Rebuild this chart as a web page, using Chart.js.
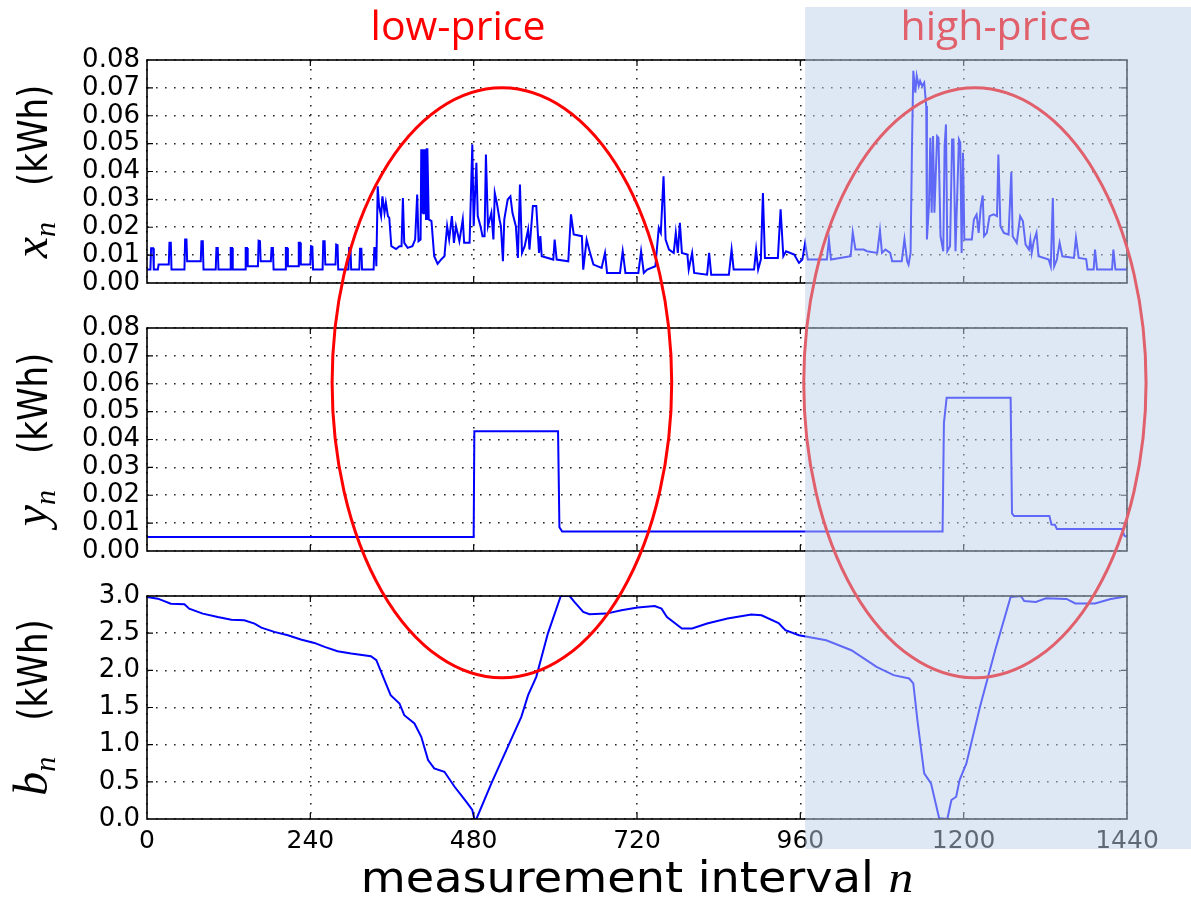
<!DOCTYPE html>
<html>
<head>
<meta charset="utf-8">
<script src="https://cdn.jsdelivr.net/npm/chart.js@4.4.1/dist/chart.umd.min.js"></script>
<style>
  html, body { margin: 0; padding: 0; background: #fff; }
  #wrap { position: relative; width: 1191px; height: 902px; overflow: hidden; }
  #wrap canvas { position: absolute; left: 0; top: 0; }
</style>
</head>
<body>
<div id="wrap">
  <canvas id="usageCanvas" width="1191" height="902"></canvas>
  <canvas id="gridCanvas" width="1191" height="902"></canvas>
  <canvas id="batteryCanvas" width="1191" height="902"></canvas>
</div>
<script>
// measurement interval ticks (one day of 1-minute intervals)
const intervalTicks = [0, 240, 480, 720, 960, 1200, 1440];

// x_n : household demand per interval (kWh), [n, value]
const usage = [
  [0,0.0048],[5,0.0048],[6,0.0125],[9,0.0125],[10,0.0048],[16,0.0048],[17,0.0066],[32,0.0066],
  [33,0.0144],[35,0.0144],[36,0.0048],[55,0.0048],[56,0.0156],[58,0.0156],[59,0.0078],[79,0.0078],
  [80,0.015],[82,0.015],[83,0.0048],[101,0.0048],[102,0.0126],[104,0.0126],[105,0.0048],[122,0.0048],
  [123,0.0126],[125,0.0126],[126,0.0048],[144,0.0048],[145,0.0126],[147,0.0126],[148,0.006],[163,0.006],
  [164,0.0152],[166,0.015],[167,0.0078],[182,0.0078],[183,0.0126],[185,0.0126],[186,0.0048],[203,0.0048],
  [204,0.0126],[206,0.0126],[207,0.006],[222,0.006],[223,0.0144],[225,0.0144],[226,0.0066],[240,0.0066],
  [241,0.0132],[243,0.013],[244,0.0048],[258,0.0048],[259,0.015],[261,0.015],[262,0.0066],[277,0.0066],
  [278,0.0138],[280,0.0136],[281,0.0048],[296,0.0048],[297,0.0126],[299,0.0126],[300,0.0048],[312,0.0048],
  [313,0.0123],[315,0.0123],[316,0.0048],[333,0.0048],[334,0.0126],[336,0.0126],[337,0.006],
  [339,0.0347],[341,0.0276],[344,0.024],[346,0.0311],[349,0.0252],[351,0.0288],[354,0.024],[356,0.0234],
  [359,0.0132],[366,0.0122],[371,0.0132],[374,0.0132],[376,0.0305],[378,0.0144],[383,0.0126],[390,0.0132],
  [394,0.0156],[397,0.0317],[399,0.015],[402,0.0156],[403,0.048],[404,0.025],[405,0.048],[406,0.025],
  [407,0.048],[408,0.025],[409,0.048],[410,0.023],[411,0.048],[412,0.048],[414,0.0228],[418,0.0222],
  [422,0.0096],[427,0.0069],[432,0.0084],[437,0.0096],[441,0.0204],[444,0.0156],[448,0.024],[451,0.0144],
  [454,0.0204],[459,0.015],[464,0.0228],[466,0.0144],[474,0.0144],[478,0.0497],[480,0.0204],[484,0.0431],
  [486,0.024],[490,0.0204],[493,0.0168],[496,0.0168],[498,0.0461],[501,0.0204],[506,0.0252],[509,0.0156],
  [511,0.0323],[514,0.0288],[518,0.0228],[520,0.0204],[523,0.0078],[525,0.0228],[530,0.03],[534,0.0311],
  [537,0.0252],[542,0.0204],[545,0.009],[548,0.0353],[551,0.0108],[555,0.0132],[560,0.0192],[562,0.012],
  [567,0.0276],[572,0.0276],[576,0.0108],[578,0.0168],[580,0.0096],
  [597,0.0084],[599,0.0156],[602,0.0084],[619,0.0078],[623,0.0246],[627,0.0174],[639,0.0168],[641,0.0048],
  [646,0.0156],[651,0.0108],[656,0.0066],[668,0.0054],[673,0.0108],[676,0.0036],[695,0.0036],[699,0.0114],
  [703,0.0036],[722,0.0036],[726,0.0114],[730,0.0036],[735,0.0048],[747,0.006],[752,0.0198],[755,0.018],
  [759,0.0383],[762,0.0156],[767,0.012],[774,0.0108],[777,0.018],[780,0.0108],[783,0.0216],[786,0.0108],
  [794,0.0102],[796,0.0048],[801,0.0108],[804,0.0036],[823,0.003],[826,0.0108],[829,0.003],[855,0.003],
  [859,0.012],[862,0.0048],[892,0.0048],[895,0.012],[898,0.0048],[902,0.0084],[905,0.0323],[908,0.009],
  [927,0.009],[931,0.0264],[935,0.0096],[939,0.0114],[951,0.0102],[958,0.0072],[963,0.0084],[967,0.0144],
  [971,0.0084],[985,0.0084],[999,0.0084],[1002,0.0156],[1005,0.0084],[1034,0.0096],[1037,0.0182],[1041,0.012],
  [1053,0.012],[1058,0.0114],[1073,0.0108],[1077,0.0189],[1080,0.0108],[1085,0.012],[1092,0.0108],[1095,0.0078],
  [1109,0.0078],[1113,0.0158],[1117,0.0078],[1119,0.0066],[1122,0.0108],[1124,0.048],[1126,0.0761],[1129,0.0683],
  [1131,0.0743],[1134,0.0707],[1136,0.0725],[1139,0.0707],[1142,0.0719],[1145,0.0635],[1146,0.0156],[1149,0.0276],
  [1151,0.0521],[1153,0.0252],[1155,0.0527],[1157,0.0252],[1161,0.0527],[1163,0.0521],[1166,0.0168],[1170,0.0114],
  [1172,0.0491],[1174,0.0569],[1176,0.0114],[1180,0.0132],[1183,0.0515],[1185,0.0515],[1188,0.0114],[1193,0.0515],
  [1195,0.0503],[1197,0.0108],[1199,0.0467],[1201,0.0156],[1212,0.0156],[1215,0.0228],[1219,0.0246],[1222,0.018],
  [1225,0.027],[1228,0.0314],[1230,0.0168],[1234,0.018],[1238,0.024],[1244,0.0246],[1249,0.024],[1251,0.0461],
  [1254,0.0204],[1259,0.018],[1266,0.0174],[1270,0.0398],[1272,0.0168],[1278,0.0144],[1283,0.024],[1287,0.0222],
  [1291,0.0138],[1296,0.012],[1298,0.0156],[1300,0.0108],[1303,0.015],[1307,0.018],[1310,0.0096],[1325,0.0084],
  [1328,0.006],[1331,0.0305],[1333,0.006],[1337,0.0084],[1341,0.0144],[1345,0.0096],[1362,0.009],[1365,0.0162],
  [1369,0.009],[1380,0.0086],[1382,0.0048],[1391,0.0048],[1393,0.012],[1396,0.0048],[1418,0.0048],[1420,0.012],
  [1423,0.0048],[1440,0.0048]
];

// y_n : energy drawn from the grid (kWh), [n, value]
const gridDraw = [
  [0,0.005],[480,0.005],[481,0.043],[604,0.043],[606,0.0085],[610,0.007],[1169,0.007],[1171,0.046],
  [1175,0.055],[1269,0.055],[1271,0.0135],[1274,0.0126],[1326,0.0126],[1329,0.0095],[1334,0.0094],
  [1337,0.0079],[1433,0.0079],[1436,0.0055],[1440,0.005]
];

// b_n : battery state of charge (kWh), [n, value]
const battery = [
  [0,2.987],[16,2.964],[35,2.897],[55,2.888],[62,2.83],[82,2.763],[104,2.718],[124,2.682],[143,2.673],
  [158,2.629],[168,2.575],[187,2.517],[207,2.472],[226,2.414],[246,2.369],[261,2.315],[280,2.257],[300,2.226],
  [329,2.19],[337,2.136],[347,1.912],[358,1.666],[371,1.554],[378,1.397],[393,1.285],[403,1.106],[413,0.793],
  [422,0.681],[437,0.636],[452,0.434],[469,0.233],[478,0.121],[481,0],[484,0],[506,0.479],[528,0.927],
  [550,1.375],[560,1.666],[572,1.912],[589,2.494],[608,3.0],[621,3.0],[628,2.92],[641,2.785],[650,2.754],
  [675,2.763],[697,2.808],[721,2.844],[746,2.866],[756,2.83],[764,2.718],[786,2.562],[801,2.562],[823,2.629],
  [853,2.696],[888,2.75],[903,2.741],[928,2.637],[938,2.539],[958,2.472],[998,2.405],[1035,2.27],[1072,2.046],
  [1097,1.935],[1120,1.89],[1126,1.823],[1132,1.33],[1142,0.614],[1152,0.48],[1164,0.009],[1176,0],
  [1182,0.255],[1189,0.3],[1194,0.524],[1204,0.748],[1224,1.509],[1247,2.293],[1269,2.986],[1284,3.0],
  [1289,2.933],[1306,2.92],[1321,2.97],[1351,2.96],[1364,2.9],[1393,2.9],[1416,2.96],[1436,2.99],[1440,3.0]
];

// price periods circled on the figure (interval ranges)
const lowPriceZone = [272, 771];
const highPriceZone = [965, 1468];
const highPriceStart = 967;

Chart.defaults.font.family = '"DejaVu Sans", sans-serif';
Chart.defaults.color = '#000';

const PLOT_LEFT = 147;
const PLOT_RIGHT = 1127;

function drawYTitle(ctx, sym, cy) {
  ctx.save();
  ctx.translate(47, cy);
  ctx.rotate(-Math.PI / 2);
  ctx.fillStyle = '#000';
  ctx.textBaseline = 'alphabetic';
  const fSym = 'italic 48px "Liberation Serif"';
  const fSub = 'italic 30px "Liberation Serif"';
  const fUnit = '40px "DejaVu Sans"';
  const squeeze = 0.85;
  ctx.font = fSym; const w1 = ctx.measureText(sym).width;
  ctx.font = fSub; const w2 = ctx.measureText('n').width;
  ctx.font = fUnit; const w3 = ctx.measureText('(kWh)').width * squeeze;
  const gap = 36;
  let cx = -(w1 + w2 + gap + w3) / 2;
  ctx.font = fSym; ctx.fillText(sym, cx, 0); cx += w1;
  ctx.font = fSub; ctx.fillText('n', cx, 8); cx += w2 + gap;
  ctx.font = fUnit;
  ctx.translate(cx, 0);
  ctx.scale(squeeze, 1);
  ctx.fillText('(kWh)', 0, 0);
  ctx.restore();
}

// box, inward tick marks and the rotated y label
const framePlugin = {
  id: 'frame',
  afterDraw(chart, args, opts) {
    const { ctx, chartArea: a, scales: { x, y } } = chart;
    ctx.save();
    ctx.strokeStyle = '#000';
    ctx.lineWidth = 1.2;
    ctx.beginPath();
    x.ticks.forEach(t => {
      const px = x.getPixelForValue(t.value);
      if (px <= a.left + 1 || px >= a.right - 1) return;
      ctx.moveTo(px, a.top); ctx.lineTo(px, a.top + 6);
      ctx.moveTo(px, a.bottom); ctx.lineTo(px, a.bottom - 6);
    });
    y.ticks.forEach(t => {
      const py = y.getPixelForValue(t.value);
      if (py <= a.top + 1 || py >= a.bottom - 1) return;
      ctx.moveTo(a.left, py); ctx.lineTo(a.left + 6, py);
      ctx.moveTo(a.right, py); ctx.lineTo(a.right - 6, py);
    });
    ctx.stroke();
    ctx.lineWidth = 1.6;
    ctx.strokeRect(a.left, a.top, a.right - a.left, a.bottom - a.top);
    ctx.restore();
    drawYTitle(ctx, opts.sym, (a.top + a.bottom) / 2);

    if (opts.xTitle) {
      // axis title, slightly widened like the rest of the figure
      ctx.save();
      ctx.fillStyle = '#000';
      ctx.textBaseline = 'alphabetic';
      const stretch = 1.1;
      const main = 'measurement interval ';
      const fMain = '42px "DejaVu Sans"';
      const fVar = 'italic 45px "Liberation Serif"';
      ctx.font = fMain;
      const w1 = ctx.measureText(main).width * stretch;
      ctx.font = fVar;
      const w2 = ctx.measureText('n').width * stretch;
      const cx = (a.left + a.right) / 2 - (w1 + w2) / 2;
      ctx.translate(cx, 892);
      ctx.scale(stretch, 1);
      ctx.font = fMain;
      ctx.fillText(main, 0, 0);
      ctx.font = fVar;
      ctx.fillText('n', w1 / stretch, 0);
      ctx.restore();
    }
  }
};

let usageChart = null;

// shaded high-price band, the two circled zones and their labels
const pricePlugin = {
  id: 'price',
  afterDraw(chart) {
    const { ctx, scales: { x, y } } = chart;
    ctx.save();
    const sx = x.getPixelForValue(highPriceStart);
    ctx.fillStyle = 'rgba(189,209,235,0.5)';
    ctx.fillRect(sx, 7, chart.width - sx, 849 - 7);

    const top = usageChart.scales.y.getPixelForValue(0.07);
    const bot = y.getPixelForValue(1.9);
    const zones = [
      { r: lowPriceZone, color: '#ff0000' },
      { r: highPriceZone, color: 'rgb(224,96,108)' }
    ];
    ctx.lineWidth = 3;
    zones.forEach(z => {
      const l = x.getPixelForValue(z.r[0]);
      const r = x.getPixelForValue(z.r[1]);
      ctx.beginPath();
      ctx.ellipse((l + r) / 2, (top + bot) / 2, (r - l) / 2, (bot - top) / 2, 0, 0, Math.PI * 2);
      ctx.strokeStyle = z.color;
      ctx.stroke();
    });

    ctx.font = '41px "Open Sans"';
    ctx.textAlign = 'center';
    ctx.textBaseline = 'alphabetic';
    ctx.fillStyle = '#ff0000';
    ctx.fillText('low-price', 458, 40);
    ctx.fillStyle = 'rgb(224,96,108)';
    ctx.fillText('high-price', 996, 40);
    ctx.restore();
  }
};

function makePanel(id, pts, opts) {
  const xHeight = opts.showX ? 40 : 0;
  return new Chart(document.getElementById(id), {
    type: 'line',
    data: {
      datasets: [{
        data: pts.map(p => ({ x: p[0], y: p[1] })),
        borderColor: '#0000ff',
        borderWidth: 2,
        pointRadius: 0,
        tension: 0,
        fill: false
      }]
    },
    options: {
      responsive: false,
      animation: false,
      events: [],
      layout: {
        padding: { left: 0, right: 1191 - PLOT_RIGHT, top: opts.top, bottom: 902 - opts.bottom - xHeight }
      },
      scales: {
        x: {
          type: 'linear',
          min: intervalTicks[0],
          max: intervalTicks[intervalTicks.length - 1],
          afterBuildTicks: s => { s.ticks = intervalTicks.map(v => ({ value: v })); },
          afterFit: s => { s.height = xHeight; },
          ticks: {
            display: !!opts.showX,
            autoSkip: false,
            maxRotation: 0,
            padding: 7,
            font: { size: 25 },
            callback: v => String(v)
          },
          grid: { color: 'rgba(0,0,0,0.85)', lineWidth: 1.6, drawTicks: false },
          border: { display: false, dash: [1.6, 7.4] }
        },
        y: {
          min: 0,
          max: opts.yMax,
          afterBuildTicks: s => { s.ticks = opts.yTicks.map(v => ({ value: v })); },
          afterFit: s => { s.width = PLOT_LEFT; },
          ticks: {
            autoSkip: false,
            padding: 7,
            font: { size: 26 },
            callback: v => v.toFixed(opts.digits)
          },
          grid: { color: 'rgba(0,0,0,0.85)', lineWidth: 1.6, drawTicks: false },
          border: { display: false, dash: [1.6, 7.4] }
        }
      },
      plugins: {
        legend: { display: false },
        tooltip: { enabled: false },
        frame: { sym: opts.sym, xTitle: !!opts.showX }
      }
    },
    plugins: opts.showX ? [framePlugin, pricePlugin] : [framePlugin]
  });
}

const kwhTicks = [0, 0.01, 0.02, 0.03, 0.04, 0.05, 0.06, 0.07, 0.08];
const socTicks = [0, 0.5, 1.0, 1.5, 2.0, 2.5, 3.0];

usageChart = makePanel('usageCanvas', usage, { top: 60, bottom: 283, yMax: 0.08, yTicks: kwhTicks, digits: 2, sym: 'x' });
makePanel('gridCanvas', gridDraw, { top: 328, bottom: 551, yMax: 0.08, yTicks: kwhTicks, digits: 2, sym: 'y' });
makePanel('batteryCanvas', battery, { top: 596, bottom: 819, yMax: 3.0, yTicks: socTicks, digits: 1, sym: 'b', showX: true });
</script>
</body>
</html>
